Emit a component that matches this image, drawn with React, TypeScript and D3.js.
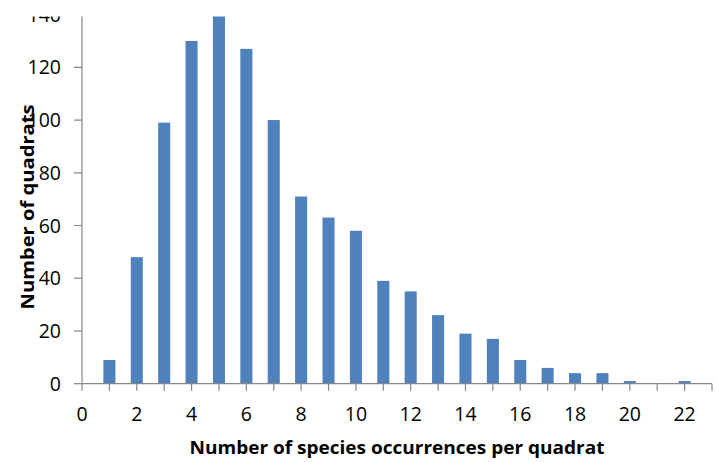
import React from "react";
import * as d3 from "d3";

const occurrences = [1, 2, 3, 4, 5, 6, 7, 8, 9, 10, 11, 12, 13, 14, 15, 16, 17, 18, 19, 20, 21, 22];
const quadrats = [9, 48, 99, 130, 140, 127, 100, 71, 63, 58, 39, 35, 26, 19, 17, 9, 6, 4, 4, 1, 0, 1];
const xTicks = [0, 2, 4, 6, 8, 10, 12, 14, 16, 18, 20, 22];
const xMinorTicks = d3.range(0, 24);
const yTicks = [0, 20, 40, 60, 80, 100, 120, 140];

const W = 717;
const H = 462;
const FONT = "'Open Sans', 'Liberation Sans', sans-serif";
const AXIS = "#868686";
const BAR = "#4F81BD";

export default function App() {
  const x = d3.scaleLinear().domain([0, 23]).range([82, 712]);
  const y = d3.scaleLinear().domain([0, 140]).range([383.7, 14.6]);
  const bw = (x(1) - x(0)) * 0.44;
  return (
    <svg width={W} height={H} style={{ position: "absolute", left: 0, top: 0, background: "#fff" }}>
      <defs>
        <clipPath id="crop">
          <rect x={0} y={16.5} width={W} height={H} />
        </clipPath>
      </defs>
      <g clipPath="url(#crop)">
        {occurrences.map((o, i) => (
          <rect key={o} x={x(o) - bw / 2} y={y(quadrats[i])} width={bw} height={y(0) - y(quadrats[i])} fill={BAR} />
        ))}
        <line x1={x(0)} x2={x(0)} y1={y(140)} y2={y(0)} stroke={AXIS} strokeWidth={1.2} />
        <line x1={x(0)} x2={x(23)} y1={y(0)} y2={y(0)} stroke={AXIS} strokeWidth={1.2} />
        {yTicks.map((t) => (
          <g key={t}>
            <line x1={x(0) - 8} x2={x(0)} y1={y(t)} y2={y(t)} stroke={AXIS} strokeWidth={1.2} />
            <text x={61} y={y(t)} dy="0.36em" textAnchor="end" fontFamily={FONT} fontSize={19.5} fill="#000">
              {t}
            </text>
          </g>
        ))}
        {xMinorTicks.map((t) => (
          <line key={t} x1={x(t)} x2={x(t)} y1={y(0)} y2={y(0) + 7} stroke={AXIS} strokeWidth={1.2} />
        ))}
        {xTicks.map((t) => (
          <text key={t} x={x(t)} y={420.5} textAnchor="middle" fontFamily={FONT} fontSize={19.5} fill="#000">
            {t}
          </text>
        ))}
        <text x={397} y={454} textAnchor="middle" fontFamily={FONT} fontSize={18} fontWeight="bold" fill="#000"
          textLength={415} lengthAdjust="spacingAndGlyphs">
          Number of species occurrences per quadrat
        </text>
        <text
          transform={`translate(34,207) rotate(-90)`}
          textAnchor="middle"
          fontFamily={FONT}
          fontSize={18}
          fontWeight="bold"
          fill="#000"
          textLength={205}
          lengthAdjust="spacingAndGlyphs"
        >
          Number of quadrats
        </text>
      </g>
    </svg>
  );
}
